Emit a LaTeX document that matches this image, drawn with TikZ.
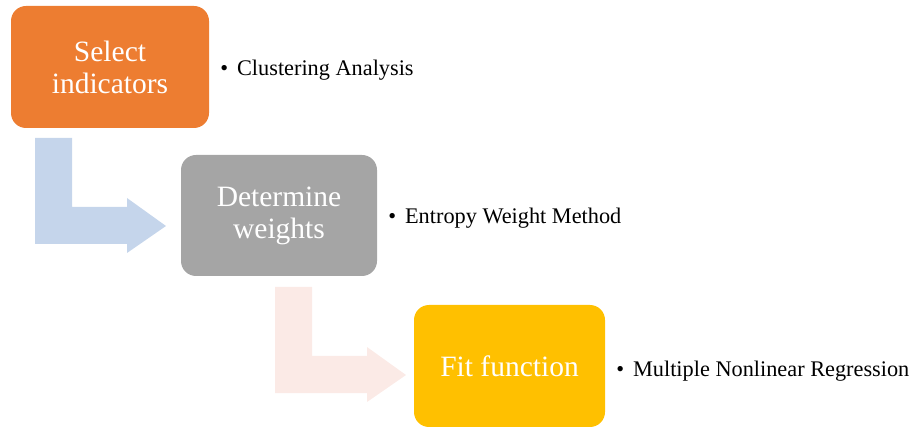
\documentclass[tikz,border=0pt]{standalone}
\usepackage{fontspec}
\setmainfont{Liberation Serif}
\usetikzlibrary{positioning}

\definecolor{stepOrange}{HTML}{ED7D31}
\definecolor{stepGray}{HTML}{A5A5A5}
\definecolor{stepGold}{HTML}{FFC000}
\definecolor{arrowBlue}{HTML}{C5D5EB}
\definecolor{arrowPink}{HTML}{FBEAE6}

\tikzset{
    stepbox/.style={rounded corners=15pt, text=white, align=center,
        font=\fontsize{29.5}{32}\selectfont, inner sep=0pt},
    note/.style={anchor=west, inner sep=0pt, font=\fontsize{22.3}{26}\selectfont}
}

\begin{document}
\begin{tikzpicture}[x=1pt, y=-1pt]
        \useasboundingbox (0,0) rectangle (910,427);

        % bent arrows between the steps
        \foreach \ox/\oy/\col in {35/138/arrowBlue, 275/287/arrowPink} {
            \fill[\col] (\ox,\oy) -- ++(37,0) -- ++(0,69) -- ++(55,0) -- ++(0,-9)
                -- ++(39,28) -- ++(-39,27) -- ++(0,-9) -- ++(-92,0) -- cycle;
        }

        \node[stepbox, fill=stepOrange, minimum width=198pt, minimum height=122pt]
            (select) at (110,67) {Select\\indicators};
        \node[stepbox, fill=stepGray, minimum width=196pt, minimum height=121pt]
            (weights) at (279,215.5) {Determine\\weights};
        \node[stepbox, fill=stepGold, minimum width=191pt, minimum height=122pt]
            (fit) at (509.5,366) {\raisebox{-2pt}{Fit function}};

        \node[note, right=11pt of select, yshift=-3pt]  (clustering) {\textbullet\hspace{0.4em}Clustering Analysis};
        \node[note, right=11pt of weights, yshift=-3pt] (entropy)    {\textbullet\hspace{0.4em}Entropy Weight Method};
        \node[note, right=11pt of fit, yshift=-5pt]     (regression) {\textbullet\hspace{0.4em}Multiple Nonlinear Regression};

    \end{tikzpicture}
\end{document}
